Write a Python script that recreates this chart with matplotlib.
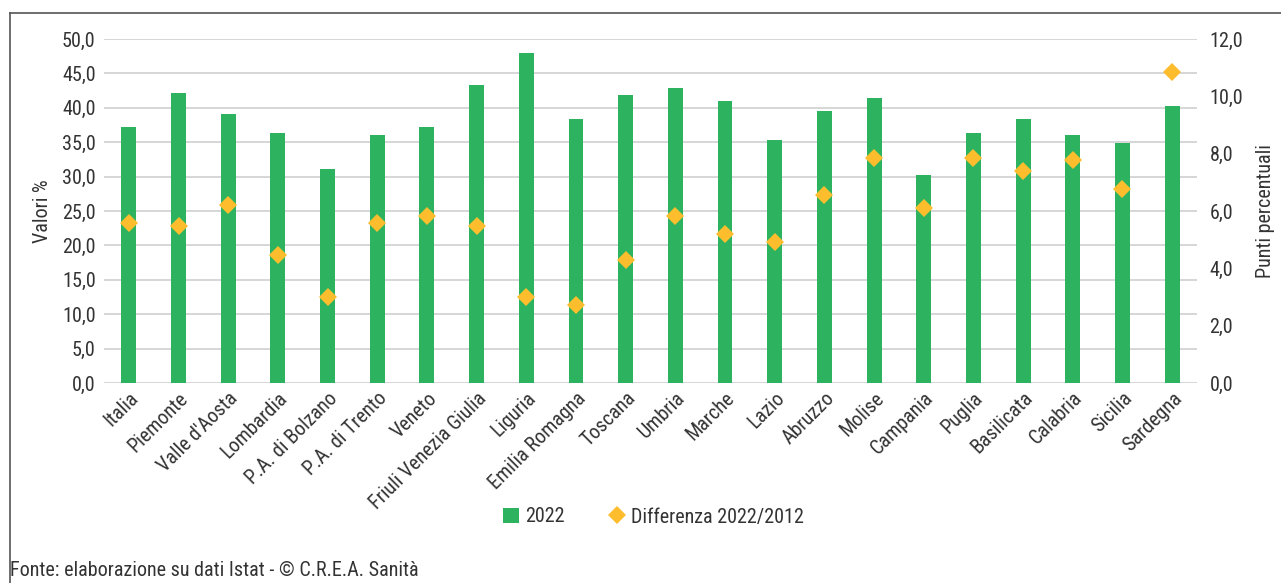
import matplotlib
matplotlib.use("Agg")
import matplotlib.pyplot as plt
from matplotlib.lines import Line2D
from matplotlib.patches import Patch
import numpy as np

regioni = ["Italia", "Piemonte", "Valle d'Aosta", "Lombardia", "P.A. di Bolzano",
           "P.A. di Trento", "Veneto", "Friuli Venezia Giulia", "Liguria",
           "Emilia Romagna", "Toscana", "Umbria", "Marche", "Lazio", "Abruzzo",
           "Molise", "Campania", "Puglia", "Basilicata", "Calabria", "Sicilia",
           "Sardegna"]
valori_2022 = [37.2, 42.2, 39.1, 36.4, 31.1, 36.1, 37.2, 43.3, 47.9, 38.4, 41.8,
               42.9, 41.0, 35.3, 39.5, 41.4, 30.3, 36.4, 38.4, 36.1, 34.9, 40.3]
differenza = [5.57, 5.47, 6.21, 4.46, 3.01, 5.57, 5.84, 5.47, 3.01, 2.73, 4.29,
              5.84, 5.20, 4.93, 6.57, 7.85, 6.11, 7.85, 7.38, 7.77, 6.76, 10.86]
y_left_ticks = np.arange(0, 50.1, 5)
y_right_ticks = np.arange(0, 12.1, 2)

green = "#2DB35F"
gold = "#FDBD2C"
text_col = "#333333"
grid_col = "#D3D3D3"
fs = 14.5

plt.rcParams["font.family"] = ["Roboto Condensed", "DejaVu Sans"]
plt.rcParams["text.color"] = text_col

fig = plt.figure(figsize=(12.81, 5.83), dpi=100)
ax = fig.add_axes([104 / 1281, 1 - 383 / 583, (1197 - 104) / 1281, (383 - 39) / 583])
x = np.arange(len(regioni))

ax.bar(x, valori_2022, width=0.3, color=green, zorder=2)
ax.set_xlim(-0.5, len(regioni) - 0.5)
ax.set_ylim(0, 50)
ax.set_yticks(y_left_ticks)
ax.set_yticklabels([f"{v:.1f}".replace(".", ",") for v in y_left_ticks])
ax.grid(axis="y", color=grid_col, linewidth=1.3, zorder=0)
ax.set_axisbelow(True)
for s in ["top", "right", "left", "bottom"]:
    ax.spines[s].set_visible(False)
ax.tick_params(axis="both", length=0, labelsize=fs, colors=text_col)
ax.tick_params(axis="y", pad=6)
ax.set_xticks(x)
ax.set_xticklabels(regioni, rotation=45, ha="right", rotation_mode="anchor", fontsize=fs)
ax.tick_params(axis="x", pad=4)
ax.set_ylabel("Valori %", fontsize=fs, color=text_col, labelpad=7)

ax2 = ax.twinx()
ax2.plot(x, differenza, linestyle="none", marker="D", markersize=9.5, color=gold,
         markeredgewidth=0, zorder=3)
ax2.set_ylim(0, 12)
ax2.set_yticks(y_right_ticks)
ax2.set_yticklabels([f"{v:.1f}".replace(".", ",") for v in y_right_ticks])
for s in ["top", "right", "left", "bottom"]:
    ax2.spines[s].set_visible(False)
ax2.tick_params(axis="y", length=0, labelsize=fs, colors=text_col, pad=9)
ax2.set_ylabel("Punti percentuali", fontsize=fs, color=text_col, labelpad=9)

handles = [Patch(facecolor=green, label="2022"),
           Line2D([], [], linestyle="none", marker="D", markersize=9.5, color=gold,
                  markeredgewidth=0, label="Differenza 2022/2012")]
fig.legend(handles=handles, loc="center", bbox_to_anchor=(653 / 1281, 1 - 517 / 583),
           ncol=2, frameon=False, fontsize=fs, handlelength=0.8, handletextpad=0.3,
           columnspacing=2.2)

fig.text(10 / 1281, 1 - 571 / 583, "Fonte: elaborazione su dati Istat - © C.R.E.A. Sanità",
         fontsize=14.5, va="center", ha="left", color=text_col)

# cornice
fig.add_artist(Line2D([10 / 1281, 1], [1 - 13 / 583] * 2, color="#555555", linewidth=1.2))
fig.add_artist(Line2D([10 / 1281] * 2, [1 - 13 / 583, 0], color="#555555", linewidth=1.2))

fig.savefig("out.png", dpi=100)
